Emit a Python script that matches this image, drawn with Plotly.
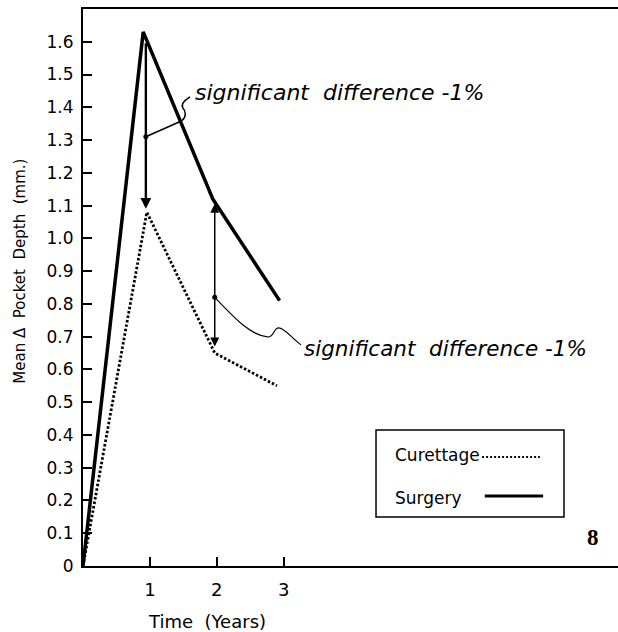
import plotly.graph_objects as go

# ---- data ----
surgery_time = [0, 0.90, 1.94, 2.94]
surgery_depth = [0, 1.63, 1.12, 0.81]
curettage_time = [0, 0.955, 1.97, 2.90]
curettage_depth = [0, 1.08, 0.65, 0.55]

y_ticks = [0, 0.1, 0.2, 0.3, 0.4, 0.5, 0.6, 0.7, 0.8, 0.9, 1.0, 1.1, 1.2, 1.3, 1.4, 1.5, 1.6]
y_tick_labels = ["0", "0.1", "0.2", "0.3", "0.4", "0.5", "0.6", "0.7", "0.8", "0.9",
                 "1.0", "1.1", "1.2", "1.3", "1.4", "1.5", "1.6"]
x_ticks = [1, 2, 3]
x_tick_labels = ["1", "2", "3"]

# significance markers: (time, low, high, dot)
sig1 = dict(t=0.94, top=1.60, bottom=1.09, dot=1.31)
sig2 = dict(t=1.97, top=1.11, bottom=0.67, dot=0.82)
sig_text = "significant\u00a0 difference -1%"

FONT = "DejaVu Sans"

fig = go.Figure()
fig.add_trace(go.Scatter(x=surgery_time, y=surgery_depth, mode="lines",
                         line=dict(color="black", width=3.5), name="Surgery",
                         showlegend=False, cliponaxis=False))
fig.add_trace(go.Scatter(x=curettage_time, y=curettage_depth, mode="lines",
                         line=dict(color="black", width=2.8, dash="2.5px,2px"),
                         name="Curettage", showlegend=False, cliponaxis=False))
# dots on the significance arrows
fig.add_trace(go.Scatter(x=[sig1["t"], sig2["t"]], y=[sig1["dot"], sig2["dot"]],
                         mode="markers", marker=dict(color="black", size=5),
                         showlegend=False))

annotations = []
# arrow 1 (down)
annotations.append(dict(x=sig1["t"], y=sig1["bottom"], ax=sig1["t"], ay=sig1["top"],
                        xref="x", yref="y", axref="x", ayref="y", text="",
                        showarrow=True, arrowhead=2, arrowsize=0.9, arrowwidth=2.4,
                        arrowcolor="black", standoff=0, startstandoff=0))
# arrow 2 (double headed)
annotations.append(dict(x=sig2["t"], y=sig2["bottom"], ax=sig2["t"], ay=sig2["top"],
                        xref="x", yref="y", axref="x", ayref="y", text="",
                        showarrow=True, arrowhead=2, startarrowhead=2,
                        arrowside="end+start", arrowsize=1.2, startarrowsize=1.2,
                        arrowwidth=1.5, arrowcolor="black", standoff=0, startstandoff=0))
# texts
annotations.append(dict(x=1.64, y=1.445, xref="x", yref="y", text=sig_text,
                        showarrow=False, xanchor="left", yanchor="middle",
                        font=dict(family=FONT, size=22, color="black", style="italic")))
annotations.append(dict(x=3.28, y=0.665, xref="x", yref="y", text=sig_text,
                        showarrow=False, xanchor="left", yanchor="middle",
                        font=dict(family=FONT, size=21.5, color="black", style="italic")))
# axis titles
annotations.append(dict(x=-0.118, y=0.53, xref="paper", yref="paper",
                        xanchor="center", yanchor="middle",
                        text="Mean \u0394  Pocket  Depth  (mm.)", textangle=-90,
                        showarrow=False, font=dict(family=FONT, size=15, color="black")))
annotations.append(dict(x=0.232, y=-0.1005, xref="paper", yref="paper",
                        xanchor="center", yanchor="middle",
                        text="Time\u00a0 (Years)", showarrow=False,
                        font=dict(family=FONT, size=18, color="black")))
# legend texts
annotations.append(dict(x=0.579, y=0.199, xref="paper", yref="paper", text="Curettage",
                        showarrow=False, xanchor="left", yanchor="middle",
                        font=dict(family=FONT, size=17, color="black")))
annotations.append(dict(x=0.579, y=0.122, xref="paper", yref="paper", text="Surgery",
                        showarrow=False, xanchor="left", yanchor="middle",
                        font=dict(family=FONT, size=17, color="black")))
# panel number
annotations.append(dict(x=0.953, y=0.052, xref="paper", yref="paper", text="<b>8</b>",
                        showarrow=False, xanchor="center", yanchor="middle",
                        font=dict(family="Liberation Serif", size=23, color="black")))

shapes = []
# connectors
shapes.append(dict(type="path", xref="x", yref="y",
                   path=("M 0.94 1.31 L 1.478 1.359 C 1.552 1.371 1.537 1.389 1.493 1.398 "
                         "C 1.463 1.408 1.507 1.420 1.60 1.432"),
                   line=dict(color="black", width=1.5)))
shapes.append(dict(type="path", xref="x", yref="y",
                   path=("M 1.97 0.82 C 2.269 0.757 2.493 0.705 2.761 0.699 "
                         "C 2.851 0.696 2.851 0.727 2.925 0.727 "
                         "C 3.015 0.727 3.119 0.696 3.26 0.675"),
                   line=dict(color="black", width=1.2)))
# legend box and samples
shapes.append(dict(type="rect", xref="paper", yref="paper", x0=0.5477, x1=0.8991,
                   y0=0.088, y1=0.2442, line=dict(color="black", width=1.5)))
shapes.append(dict(type="line", xref="paper", yref="paper", x0=0.746, x1=0.854,
                   y0=0.1957, y1=0.1957, line=dict(color="black", width=2, dash="2px,2px")))
shapes.append(dict(type="line", xref="paper", yref="paper", x0=0.751, x1=0.86,
                   y0=0.1257, y1=0.1257, line=dict(color="black", width=3)))

fig.update_layout(
    width=618, height=632,
    margin=dict(l=83, r=0, t=9, b=66),
    paper_bgcolor="white", plot_bgcolor="white",
    showlegend=False,
    font=dict(family=FONT, color="black"),
    annotations=annotations, shapes=shapes,
    xaxis=dict(range=[0, 8], tickvals=x_ticks, ticktext=x_tick_labels,
               ticks="inside", ticklen=9, tickwidth=1.5, tickcolor="black",
               showline=True, linecolor="black", linewidth=2, mirror=True,
               showgrid=False, zeroline=False,
               tickfont=dict(family=FONT, size=18, color="black"),
               ticklabelstandoff=6),
    yaxis=dict(range=[0, 1.70], tickvals=y_ticks, ticktext=y_tick_labels,
               ticks="inside", ticklen=9, tickwidth=1.5, tickcolor="black",
               showline=True, linecolor="black", linewidth=2, mirror=False,
               showgrid=False, zeroline=False,
               tickfont=dict(family=FONT, size=17, color="black"),
               ticklabelstandoff=4),
)

fig.write_html(
    "out.html",
    config={"displayModeBar": False},
    post_script="document.body.style.margin='0';document.body.style.overflow='hidden';",
)
